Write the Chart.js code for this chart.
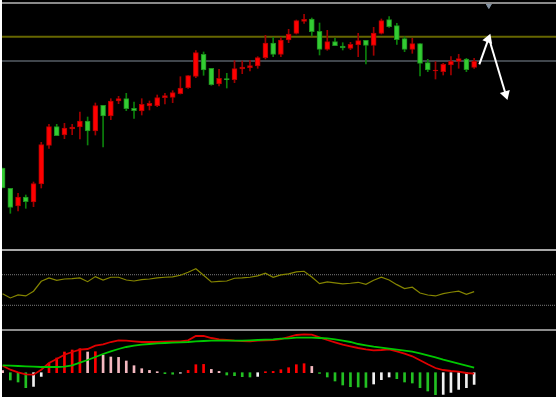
<!DOCTYPE html>
<html>
<head>
<meta charset="utf-8">
<script src="https://cdn.jsdelivr.net/npm/chart.js@4.4.1/dist/chart.umd.min.js"></script>
<style>
  html, body { margin: 0; padding: 0; background: #fff; }
  #frame { position: absolute; left: 2px; top: 0; width: 554px; height: 397px; background: #000; overflow: hidden; }
  #frame canvas { position: absolute; left: 0; }
  .rule { position: absolute; left: 0; width: 554px; }
</style>
</head>
<body>
<div id="frame">
  <canvas id="priceChart" width="554" height="245" style="top:4px"></canvas>
  <canvas id="rsiChart" width="554" height="77" style="top:252px"></canvas>
  <canvas id="macdChart" width="554" height="66" style="top:331px"></canvas>
  <div class="rule" style="top:2px;height:2px;background:#8a8a8a"></div>
  <div class="rule" style="top:249px;height:2px;background:#a8a8a8"></div>
  <div class="rule" style="top:329px;height:2px;background:#8c8c8c"></div>
</div>
<script>
// daily candles (price units), one per session
const opens  = [81, 60.7, 43, 52, 47, 65, 103.7, 122.3, 114, 120, 122, 128, 118, 143.7, 133, 148, 150.3, 140.7, 138, 143,
                143.3, 151.3, 151.7, 155.3, 161.3, 172.7, 194.7, 180.7, 165, 170.3, 169.3, 180, 181.3, 183, 191.3, 206, 194.7, 209, 215.7, 227.7,
                230, 217.7, 199.7, 207.3, 203, 200.7, 204, 208.7, 203.7, 215.7, 229.3, 223.3, 210.3, 199.7, 205.3, 186.3, 178, 177.3, 184, 187.7,
                190, 181.7];
const highs  = [81, 60.7, 55.7, 54, 67, 106.7, 124.7, 124.7, 125.7, 124.7, 137, 132, 146, 143.7, 150.3, 152.7, 155.7, 147, 150.3, 148,
                154, 155.7, 158.3, 172.3, 173.3, 198.3, 197, 180.7, 179.7, 175.7, 188.3, 188, 188.3, 192.3, 213.7, 211.7, 211.7, 219.7, 229, 234.7,
                231, 226, 218.7, 210.7, 206.3, 206.7, 215.7, 208.7, 221.7, 230, 232.3, 225.7, 212.3, 210.7, 205.3, 189.7, 187.3, 185.7, 192.3, 194.7,
                190.7, 190.7];
const lows   = [61, 35.7, 38, 40.7, 42.3, 61, 100.7, 113.3, 110.3, 114.3, 110, 104, 114, 102, 129.3, 145.3, 138.3, 130.7, 134, 139,
                142.3, 145, 146.3, 155, 160.7, 171.3, 173.7, 163.7, 163, 161, 166.3, 175.3, 178, 180.7, 190, 192.3, 192.3, 206.3, 215, 225.7,
                213, 194, 198.7, 203.3, 199, 199.3, 192.3, 185, 193.7, 215, 221.7, 204.7, 197.3, 195.7, 173, 177.3, 170, 174, 174, 180.7,
                177.3, 180.7];
const closes = [61, 41.7, 52, 47.3, 65.3, 104.3, 122.3, 113.3, 121, 122, 128, 118, 143.3, 133, 148, 150.3, 140.3, 138.3, 144.7, 145.7,
                151.3, 153.3, 156.3, 161, 173.3, 196.3, 179, 164.3, 170.7, 169.3, 180.3, 182, 183.3, 191.3, 206, 194.7, 209, 215, 228.3, 229.7,
                217.3, 199.7, 207.3, 203.3, 201, 204.7, 208.3, 203.7, 216, 228.3, 222.3, 209.3, 199.7, 205.3, 185.7, 179, 178.7, 184.7, 188, 190.3,
                179.3, 188];

const resistanceLevel = 212.3;
const lastPriceLevel = 188;
const arrowUp = [{ x: 61.67, y: 184.7 }, { x: 62.83, y: 209.7 }];
const arrowDown = [{ x: 63.05, y: 207.3 }, { x: 65.08, y: 154.7 }];
const markerPoint = [{ x: 62.9, y: 244.5 }];

// RSI
const rsiValues = [45.2, 39.6, 43.5, 42.2, 48.4, 61.4, 65.8, 62.7, 64.4, 64.8, 65.8, 60.9, 67.5, 63.1, 66.7, 66.7, 63.1, 61.8, 63.5, 64.4,
                   65.8, 66.7, 67.1, 69.3, 73.2, 77.9, 69.3, 60.5, 61.4, 61.8, 65.4, 65.8, 66.7, 68.4, 71.9, 66.7, 69.7, 71.0, 73.6, 74.5,
                   67.1, 58.3, 60.5, 59.2, 57.9, 58.8, 60.1, 57.5, 62.7, 66.7, 63.1, 57.0, 51.8, 53.6, 46.1, 43.5, 42.2, 45.2, 47.1, 48.4,
                   44.4, 47.8];
const rsiLevels = [70, 30];

// MACD
const difValues = [7.0, 3.0, 0.4, -1.6, -2.0, 3.0, 9.7, 13.7, 18.0, 20.7, 23.0, 23.7, 27.0, 28.4, 30.7, 32.4, 32.0, 31.4, 30.7, 30.7,
                   30.7, 31.0, 31.4, 31.4, 32.4, 36.7, 36.7, 34.7, 33.4, 32.7, 32.0, 31.7, 31.4, 32.0, 32.4, 32.7, 33.7, 35.7, 37.7, 38.4,
                   38.0, 35.4, 32.7, 30.4, 28.0, 26.4, 24.7, 23.4, 22.4, 22.7, 23.4, 21.4, 19.0, 16.4, 12.4, 8.4, 4.7, 2.7, 1.7, 1.0,
                   -0.3, -1.0];
const deaValues = [7.4, 7.0, 6.7, 6.4, 6.0, 5.7, 5.7, 5.7, 6.0, 7.4, 10.0, 12.7, 15.7, 18.7, 21.4, 23.7, 25.7, 27.0, 28.0, 28.7,
                   29.4, 29.7, 30.0, 30.4, 30.7, 31.4, 31.7, 32.0, 32.0, 32.0, 32.0, 32.0, 32.4, 32.7, 33.0, 33.4, 34.0, 34.4, 35.0, 35.0,
                   35.0, 34.7, 34.4, 33.4, 32.0, 30.7, 28.7, 27.4, 26.0, 25.0, 24.0, 23.0, 22.0, 21.0, 19.4, 17.4, 15.4, 13.0, 11.0, 9.0,
                   7.0, 5.0];
const macdHist = [2, -7.3, -9.3, -15, -13.7, -3.7, 9.3, 14.7, 20.7, 22.7, 24, 20.7, 21, 17.7, 15.7, 15.3, 11.7, 7, 4, 2.3,
                  1, -1, -1.5, -0.5, 2.3, 8, 8.3, 3.3, 1.3, -2.3, -3, -4, -4.3, -3.7, 1, 1.3, 3, 5, 8, 9,
                  6.3, -0.7, -4.3, -8.3, -12.3, -14, -14.3, -14.7, -11.3, -7, -4.3, -6, -9.3, -10.3, -15, -18.3, -22, -21.7, -19.7, -16.7,
                  -15, -11.7];

const X_MIN = -0.078, X_MAX = 71.59;

function baseOptions(yMin, yMax) {
    return {
        responsive: false, animation: false, devicePixelRatio: 1,
        layout: { padding: 0, autoPadding: false },
        plugins: { legend: { display: false }, tooltip: { enabled: false } },
        scales: {
            x: { type: 'linear', min: X_MIN, max: X_MAX, offset: false, display: false },
            y: { min: yMin, max: yMax, display: false }
        }
    };
}

const hline = (level) => [{ x: X_MIN, y: level }, { x: X_MAX, y: level }];
const xy = (arr) => arr.map((v, i) => ({ x: i, y: v }));

// candles: red = up, green = down
const up = opens.map((o, i) => closes[i] >= o);
new Chart(document.getElementById('priceChart'), {
    type: 'bar',
    data: {
        datasets: [
            { type: 'line', data: markerPoint, showLine: false, pointStyle: 'triangle', rotation: 180, pointRadius: 4,
              pointBackgroundColor: '#8493a3', pointBorderColor: '#8493a3' },
            { type: 'line', data: arrowUp, borderColor: '#fff', borderWidth: 2, pointRadius: [0, 4], pointStyle: 'triangle',
              rotation: 20, pointBackgroundColor: '#fff', pointBorderColor: '#fff' },
            { type: 'line', data: arrowDown, borderColor: '#fff', borderWidth: 2, pointRadius: [0, 4], pointStyle: 'triangle',
              rotation: 163, pointBackgroundColor: '#fff', pointBorderColor: '#fff' },
            { data: opens.map((o, i) => ({ x: i, y: [o, closes[i]] })), grouped: false, barThickness: 5, minBarLength: 1,
              backgroundColor: up.map(u => u ? '#ff0000' : '#33cc33'),
              borderColor: up.map(u => u ? '#b00000' : '#1d8f1d'), borderWidth: 1, borderSkipped: false },
            { data: lows.map((l, i) => ({ x: i, y: [l, highs[i]] })), grouped: false, barThickness: 1,
              backgroundColor: up.map(u => u ? '#a00000' : '#0b800b') },
            { type: 'line', data: hline(lastPriceLevel), borderColor: '#40464c', borderWidth: 2, pointRadius: 0 },
            { type: 'line', data: hline(resistanceLevel), borderColor: '#666600', borderWidth: 2, pointRadius: 0 }
        ]
    },
    options: baseOptions(0, 245)
});

new Chart(document.getElementById('rsiChart'), {
    type: 'line',
    data: {
        datasets: [
            { data: xy(rsiValues), borderColor: '#858500', borderWidth: 1.2, pointRadius: 0, tension: 0 },
            ...rsiLevels.map(l => ({ data: hline(l), borderColor: '#7a7a7a', borderWidth: 1, borderDash: [1, 1], pointRadius: 0 }))
        ]
    },
    options: baseOptions(-1, 99.7)
});

const histColors = macdHist.map((v, i) => {
    const prev = i ? macdHist[i - 1] : Infinity;
    if (v >= 0) return v >= prev ? '#ff0000' : '#f4b8c0';
    return v <= prev ? '#22c022' : '#f0f0f0';
});
new Chart(document.getElementById('macdChart'), {
    type: 'bar',
    data: {
        datasets: [
            { type: 'line', data: xy(deaValues), borderColor: '#00c800', borderWidth: 1.8, pointRadius: 0 },
            { type: 'line', data: xy(difValues), borderColor: '#e00000', borderWidth: 1.8, pointRadius: 0 },
            { data: xy(macdHist), grouped: false, barThickness: 2, backgroundColor: histColors }
        ]
    },
    options: baseOptions(-24.3, 41.7)
});
</script>
</body>
</html>
